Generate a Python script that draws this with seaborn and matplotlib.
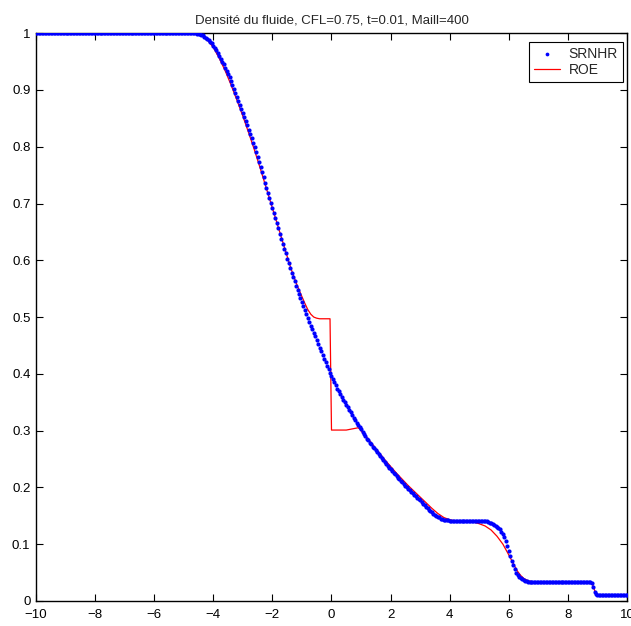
import numpy as np
import pandas as pd
import matplotlib
matplotlib.use("Agg")
import matplotlib.pyplot as plt
import seaborn as sns

# ---------------- data ----------------
title = "Densité du fluide, CFL=0.75, t=0.01, Maill=400"
x_ticks = [-10, -8, -6, -4, -2, 0, 2, 4, 6, 8, 10]
y_ticks = [0, 0.1, 0.2, 0.3, 0.4, 0.5, 0.6, 0.7, 0.8, 0.9, 1]
y_tick_labels = ["0", "0.1", "0.2", "0.3", "0.4", "0.5", "0.6", "0.7", "0.8", "0.9", "1"]

# SRNHR: one value per mesh node, x = -10 ... 10 (step 0.05)
srnhr_left = [1.000] * 106                      # x = -10 .. -4.75
srnhr_rarefaction = [                           # x = -4.70 .. 4.00
    1.000, 1.000, 1.000, 0.999, 0.999, 0.998, 0.997, 0.996, 0.994, 0.992,
    0.990, 0.988, 0.985, 0.982, 0.978,
    0.974, 0.970, 0.965, 0.960, 0.955, 0.950, 0.945, 0.939, 0.934, 0.928,
    0.922, 0.915, 0.908, 0.901, 0.895, 0.888, 0.881, 0.874, 0.867, 0.860,
    0.853, 0.845, 0.838, 0.830, 0.823, 0.815, 0.807, 0.799, 0.791, 0.782,
    0.773, 0.764, 0.755, 0.746, 0.737, 0.728, 0.719, 0.710, 0.701, 0.692,
    0.683, 0.674, 0.665, 0.656, 0.647, 0.638, 0.629, 0.620, 0.612, 0.603,
    0.595, 0.586, 0.578, 0.570, 0.563, 0.555, 0.548, 0.540, 0.533, 0.526,
    0.519, 0.512, 0.505, 0.498, 0.492, 0.485, 0.479, 0.472, 0.466, 0.459,
    0.453, 0.446, 0.440, 0.433, 0.427, 0.420, 0.414, 0.408, 0.402, 0.396,
    0.391, 0.385, 0.380, 0.374, 0.369, 0.364, 0.359, 0.354, 0.350, 0.345,
    0.341, 0.336, 0.332, 0.327, 0.323, 0.318, 0.314, 0.310, 0.306, 0.302,
    0.298, 0.294, 0.290, 0.286, 0.283, 0.279, 0.276, 0.272, 0.269, 0.265,
    0.262, 0.258, 0.255, 0.251, 0.248, 0.245, 0.242, 0.238, 0.235, 0.232,
    0.229, 0.226, 0.223, 0.220, 0.217, 0.214, 0.212, 0.209, 0.206, 0.203,
    0.201, 0.198, 0.195, 0.192, 0.190, 0.187, 0.185, 0.182, 0.180, 0.177,
    0.174, 0.171, 0.169, 0.166, 0.164, 0.161, 0.159, 0.156, 0.154, 0.152,
    0.150, 0.148, 0.147, 0.145, 0.144, 0.143, 0.143, 0.142, 0.142, 0.141,
]
srnhr_plateau = [0.140] * 25                    # x = 4.05 .. 5.25
srnhr_contact = [                               # x = 5.30 .. 6.80
    0.139, 0.138, 0.137, 0.136, 0.134, 0.132, 0.130, 0.128, 0.126, 0.122,
    0.118, 0.112, 0.105, 0.097, 0.088, 0.080, 0.071, 0.063, 0.056, 0.050,
    0.046, 0.043, 0.040, 0.038, 0.037, 0.036, 0.035, 0.034, 0.034, 0.033,
    0.033,
]
srnhr_post = [0.033] * 39                       # x = 6.85 .. 8.75
srnhr_shock = [0.031, 0.024, 0.016, 0.012, 0.011]   # x = 8.80 .. 9.00
srnhr_right = [0.010] * 20                      # x = 9.05 .. 10.0

# ROE: solid line
roe_x = [-10.0, -4.8, -4.6, -4.4, -4.2, -4.0, -3.8, -3.6, -3.4, -3.2, -3.0,
         -2.8, -2.6, -2.4, -2.2, -2.0, -1.8, -1.6, -1.4, -1.3, -1.2, -1.1,
         -1.0, -0.9, -0.8, -0.7, -0.6, -0.5, -0.4, -0.05, 0.0, 0.3, 0.5,
         0.6, 0.7, 0.8, 0.9, 0.95, 1.0, 1.1, 1.2, 1.4, 1.6, 1.8, 2.0, 2.2,
         2.4, 2.6, 2.8, 3.0, 3.2, 3.4, 3.6, 3.8, 4.0, 4.2, 4.5, 4.8, 5.0,
         5.2, 5.4, 5.6, 5.8, 6.0, 6.1, 6.2, 6.3, 6.4, 6.5, 6.6, 6.7, 6.8,
         7.0, 8.7, 8.8, 8.85, 8.9, 8.95, 9.0, 10.0]
roe_rho = [1.000, 1.000, 0.999, 0.996, 0.988, 0.975, 0.956, 0.934, 0.909,
           0.882, 0.854, 0.824, 0.793, 0.760, 0.726, 0.692, 0.658, 0.624,
           0.590, 0.575, 0.561, 0.548, 0.536, 0.524, 0.513, 0.505, 0.500,
           0.498, 0.497, 0.497, 0.301, 0.301, 0.301, 0.302, 0.303, 0.304,
           0.305, 0.303, 0.300, 0.293, 0.288, 0.275, 0.262, 0.249, 0.237,
           0.225, 0.214, 0.203, 0.193, 0.183, 0.173, 0.163, 0.154, 0.147,
           0.143, 0.141, 0.140, 0.139, 0.136, 0.132, 0.125, 0.114, 0.100,
           0.081, 0.071, 0.061, 0.052, 0.045, 0.040, 0.037, 0.035, 0.034,
           0.033, 0.033, 0.032, 0.027, 0.019, 0.013, 0.011, 0.011]

# ---------------- build tables ----------------
srnhr_rho = (srnhr_left + srnhr_rarefaction + srnhr_plateau + srnhr_contact
             + srnhr_post + srnhr_shock + srnhr_right)
assert len(srnhr_rho) == 401, len(srnhr_rho)
x_nodes = np.linspace(-10, 10, 401)
df_s = pd.DataFrame({"x": x_nodes, "rho": srnhr_rho})
df_r = pd.DataFrame({"x": roe_x, "rho": roe_rho})

# ---------------- style ----------------
sns.set_style("ticks")
plt.rcParams["font.family"] = ["Liberation Sans", "DejaVu Sans"]
plt.rcParams["axes.linewidth"] = 1.0

fig = plt.figure(figsize=(6.31, 6.26), dpi=100)
ax = fig.add_axes([0.057, 0.040, 0.9367, 0.907])

sns.lineplot(data=df_r, x="x", y="rho", ax=ax, color=(1, 0, 0), lw=0.9,
             sort=False, estimator=None, label="ROE", zorder=2)
sns.scatterplot(data=df_s, x="x", y="rho", ax=ax, color=(0, 0, 1), s=9,
                linewidth=0, marker="o", label="SRNHR", zorder=3)

ax.set_xlim(-10, 10)
ax.set_ylim(0, 1)
ax.set_xticks(x_ticks)
ax.set_xticklabels([str(v).replace("-", "\u2212") for v in x_ticks])
ax.set_yticks(y_ticks)
ax.set_yticklabels(y_tick_labels)
ax.set_xlabel("")
ax.set_ylabel("")
ax.set_title(title, fontsize=9.5, pad=7)

for s in ["top", "right", "left", "bottom"]:
    ax.spines[s].set_visible(True)
    ax.spines[s].set_color("black")
ax.tick_params(direction="in", length=5, width=0.8, top=True, right=True,
               labelsize=9.5, colors="black")
ax.tick_params(axis="x", pad=6)
ax.tick_params(axis="y", pad=4)

# legend: SRNHR first then ROE
h, l = ax.get_legend_handles_labels()
order = [l.index("SRNHR"), l.index("ROE")]
leg = ax.legend([h[i] for i in order], [l[i] for i in order],
                loc="upper right", bbox_to_anchor=(0.993, 0.984),
                borderaxespad=0, fancybox=False, framealpha=1,
                edgecolor="black", fontsize=10, handlelength=1.9,
                borderpad=0.35, labelspacing=0.15, handletextpad=0.6,
                markerscale=0.9)
leg.get_frame().set_linewidth(0.8)

fig.savefig("out.png", dpi=100)
